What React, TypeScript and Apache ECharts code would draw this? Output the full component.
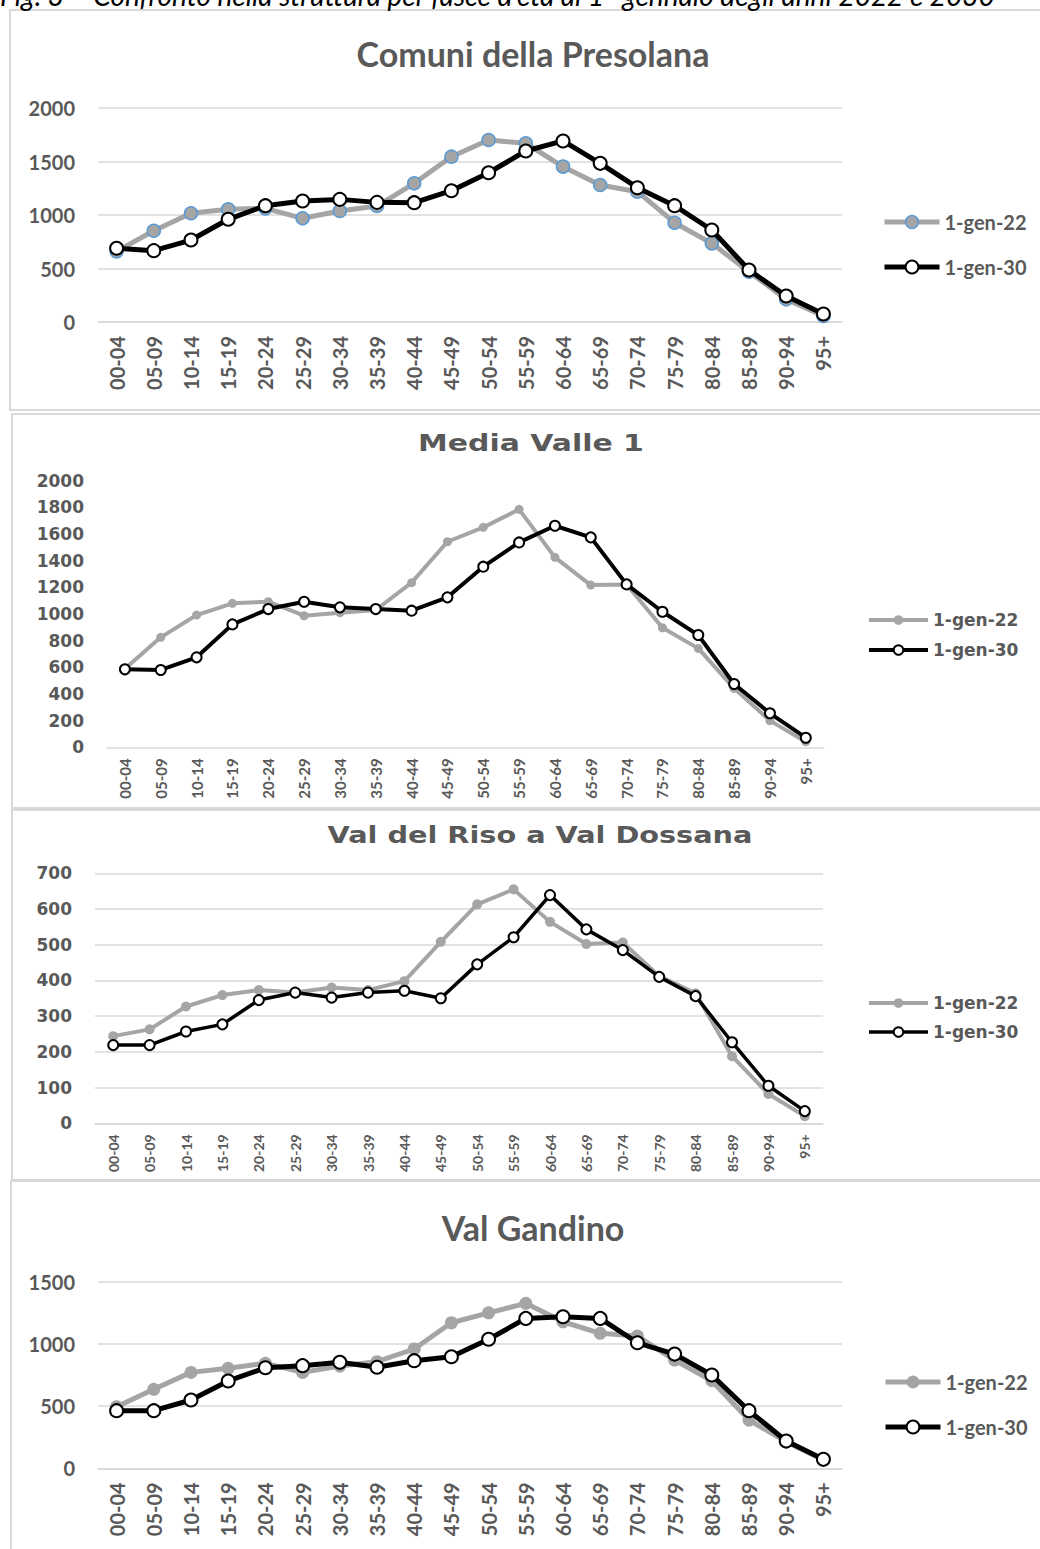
import React, { useEffect, useRef } from "react";
import * as echarts from "echarts";

const ageGroups = ["00-04","05-09","10-14","15-19","20-24","25-29","30-34","35-39","40-44","45-49","50-54","55-59","60-64","65-69","70-74","75-79","80-84","85-89","90-94","95+"];
const seriesNames = ["1-gen-22", "1-gen-30"];
const panelTitles = ["Comuni della Presolana", "Media Valle 1", "Val del Riso a Val Dossana", "Val Gandino"];
const captionText = "Fig. 3 \u2013 Confronto nella struttura per fasce d\u2019et\u00e0 al 1\u00b0 gennaio degli anni 2022 e 2030";

const presolana2022 = [660, 853, 1016, 1053, 1062, 969, 1037, 1084, 1296, 1545, 1701, 1670, 1452, 1280, 1218, 928, 735, 470, 212, 56];
const presolana2030 = [689, 667, 766, 960, 1087, 1131, 1146, 1118, 1115, 1227, 1395, 1598, 1692, 1483, 1255, 1087, 860, 486, 243, 75];
const mediaValle2022 = [590, 825, 992, 1080, 1092, 987, 1010, 1030, 1235, 1542, 1650, 1785, 1425, 1217, 1222, 897, 742, 442, 200, 42];
const mediaValle2030 = [585, 580, 675, 922, 1037, 1092, 1050, 1037, 1025, 1125, 1355, 1537, 1662, 1575, 1222, 1017, 842, 475, 255, 72];
const riso2022 = [244, 263, 327, 359, 373, 366, 380, 373, 398, 508, 613, 655, 564, 502, 506, 412, 364, 188, 82, 20];
const riso2030 = [219, 219, 257, 277, 345, 366, 352, 366, 371, 350, 445, 521, 639, 543, 485, 410, 356, 227, 105, 34];
const gandino2022 = [495, 635, 771, 804, 844, 771, 822, 857, 959, 1170, 1250, 1326, 1178, 1085, 1063, 870, 704, 388, 214, 67];
const gandino2030 = [463, 463, 549, 702, 808, 825, 852, 812, 865, 897, 1037, 1205, 1218, 1205, 1009, 918, 750, 463, 219, 72];

const yMax = [2000, 2000, 700, 1500];
const yStep = [500, 200, 100, 500];

const GRAY = "#A5A5A5";
const TXT = "#595959";
const BORDER = "#D9D9D9";

export default function App() {
  const ref = useRef<HTMLDivElement>(null);

  useEffect(() => {
    if (!ref.current) return;
    const chart = echarts.init(ref.current, null, { renderer: "svg" });

    const panels = [
      {
        data: [presolana2022, presolana2030],
        grid: { left: 98, top: 108, width: 744, height: 214 },
        gridLines: true,
        yFont: { fontFamily: "Lato", fontWeight: "bold", fontSize: 20 },
        xFont: { fontFamily: "Lato", fontWeight: "bold", fontSize: 20 },
        xMargin: 14,
        gray: { lw: 5, size: 13, border: "#5B9BD5", bw: 1.5 },
        black: { lw: 5, size: 13, bw: 2 },
        legend: { left: 882, top: 210, itemWidth: 55, itemHeight: 16, lineHeight: 24, gap: 21, font: { fontFamily: "Lato", fontWeight: "bold", fontSize: 20 } },
      },
      {
        data: [mediaValle2022, mediaValle2030],
        grid: { left: 107, top: 480.7, width: 716.7, height: 266.6 },
        gridLines: false,
        yFont: { fontFamily: "DejaVu Sans", fontWeight: "bold", fontSize: 17 },
        xFont: { fontFamily: "Lato", fontWeight: "bold", fontSize: 15 },
        xMargin: 11,
        gray: { lw: 4, size: 9, border: GRAY, bw: 0 },
        black: { lw: 4, size: 10, bw: 2 },
        legend: { left: 867, top: 610, itemWidth: 59, itemHeight: 12, lineHeight: 20, gap: 10, font: { fontFamily: "DejaVu Sans", fontWeight: "bold", fontSize: 17 } },
      },
      {
        data: [riso2022, riso2030],
        grid: { left: 95, top: 873.3, width: 728, height: 250 },
        gridLines: true,
        yFont: { fontFamily: "DejaVu Sans", fontWeight: "bold", fontSize: 17 },
        xFont: { fontFamily: "Lato", fontWeight: "bold", fontSize: 14 },
        xMargin: 11,
        gray: { lw: 4, size: 10, border: GRAY, bw: 0 },
        black: { lw: 3.5, size: 10, bw: 2 },
        legend: { left: 867, top: 993, itemWidth: 59, itemHeight: 12, lineHeight: 20, gap: 9, font: { fontFamily: "DejaVu Sans", fontWeight: "bold", fontSize: 17 } },
      },
      {
        data: [gandino2022, gandino2030],
        grid: { left: 98, top: 1281.7, width: 744, height: 186.6 },
        gridLines: true,
        yFont: { fontFamily: "Lato", fontWeight: "bold", fontSize: 20 },
        xFont: { fontFamily: "Lato", fontWeight: "bold", fontSize: 20 },
        xMargin: 14,
        gray: { lw: 5, size: 13, border: GRAY, bw: 0 },
        black: { lw: 5, size: 13, bw: 2 },
        legend: { left: 883, top: 1370, itemWidth: 55, itemHeight: 16, lineHeight: 24, gap: 21, font: { fontFamily: "Lato", fontWeight: "bold", fontSize: 20 } },
      },
    ];

    const grid: any[] = [];
    const xAxis: any[] = [];
    const yAxis: any[] = [];
    const series: any[] = [];
    const legend: any[] = [];

    panels.forEach((p, i) => {
      grid.push({ ...p.grid, containLabel: false });
      xAxis.push({
        type: "category",
        gridIndex: i,
        data: ageGroups,
        boundaryGap: true,
        axisLine: { show: true, lineStyle: { color: BORDER, width: 1.5 } },
        axisTick: { show: false },
        axisLabel: { rotate: 90, interval: 0, margin: p.xMargin, color: TXT, ...p.xFont },
        splitLine: { show: false },
      });
      yAxis.push({
        type: "value",
        gridIndex: i,
        min: 0,
        max: yMax[i],
        interval: yStep[i],
        axisLine: { show: false },
        axisTick: { show: false },
        axisLabel: { margin: 23, color: TXT, formatter: (v: number) => String(v), ...p.yFont },
        splitLine: { show: p.gridLines, lineStyle: { color: BORDER, width: 1.5 } },
      });
      series.push({
        name: seriesNames[0],
        type: "line",
        xAxisIndex: i,
        yAxisIndex: i,
        data: p.data[0],
        symbol: "circle",
        symbolSize: p.gray.size,
        showSymbol: true,
        lineStyle: { color: GRAY, width: p.gray.lw },
        itemStyle: { color: GRAY, borderColor: p.gray.border, borderWidth: p.gray.bw },
        z: 2,
      });
      series.push({
        name: seriesNames[1],
        type: "line",
        xAxisIndex: i,
        yAxisIndex: i,
        data: p.data[1],
        symbol: "circle",
        symbolSize: p.black.size,
        showSymbol: true,
        lineStyle: { color: "#000000", width: p.black.lw },
        itemStyle: { color: "#FFFFFF", borderColor: "#000000", borderWidth: p.black.bw },
        z: 3,
      });
      const lg = p.legend;
      legend.push({
        orient: "vertical",
        left: lg.left,
        top: lg.top,
        itemWidth: lg.itemWidth,
        itemHeight: lg.itemHeight,
        itemGap: lg.gap,
        selectedMode: false,
        padding: 0,
        textStyle: { color: TXT, lineHeight: lg.lineHeight, padding: [0, 0, 0, 0], ...lg.font },
        data: [
          {
            name: seriesNames[0],
            itemStyle: { color: GRAY, borderColor: p.gray.border, borderWidth: p.gray.bw },
            lineStyle: { color: GRAY, width: p.gray.lw },
          },
          {
            name: seriesNames[1],
            itemStyle: { color: "#FFFFFF", borderColor: "#000000", borderWidth: p.black.bw },
            lineStyle: { color: "#000000", width: p.black.lw },
          },
        ],
      });
    });

    const graphic: any[] = [
      { type: "rect", shape: { x: 10, y: 10, width: 1040, height: 400 }, style: { fill: "none", stroke: BORDER, lineWidth: 2 }, z: -1 },
      { type: "rect", shape: { x: 12, y: 414, width: 1040, height: 394 }, style: { fill: "none", stroke: BORDER, lineWidth: 2 }, z: -1 },
      { type: "rect", shape: { x: 12, y: 810, width: 1040, height: 370 }, style: { fill: "none", stroke: BORDER, lineWidth: 2 }, z: -1 },
      { type: "rect", shape: { x: 11, y: 1181, width: 1040, height: 400 }, style: { fill: "none", stroke: BORDER, lineWidth: 2 }, z: -1 },
      {
        type: "text",
        x: 0,
        y: 9,
        style: { text: captionText, fill: "#000000", font: "italic 28px Lato", align: "left", verticalAlign: "bottom" },
      },
      {
        type: "text",
        x: 533,
        y: 53,
        style: { text: panelTitles[0], fill: TXT, font: "bold 34px Lato", align: "center", verticalAlign: "middle" },
      },
      {
        type: "text",
        x: 531,
        y: 443,
        scaleX: 1.3,
        style: { text: panelTitles[1], fill: TXT, font: "bold 23px 'DejaVu Sans'", align: "center", verticalAlign: "middle" },
      },
      {
        type: "text",
        x: 540,
        y: 835,
        scaleX: 1.25,
        style: { text: panelTitles[2], fill: TXT, font: "bold 23px 'DejaVu Sans'", align: "center", verticalAlign: "middle" },
      },
      {
        type: "text",
        x: 533,
        y: 1227,
        style: { text: panelTitles[3], fill: TXT, font: "bold 34px Lato", align: "center", verticalAlign: "middle" },
      },
    ];

    chart.setOption({
      animation: false,
      backgroundColor: "#FFFFFF",
      grid,
      xAxis,
      yAxis,
      series,
      legend,
      graphic,
    });

    return () => chart.dispose();
  }, []);

  return (
    <div
      ref={ref}
      style={{ position: "absolute", left: 0, top: 0, width: 1040, height: 1549, background: "#FFFFFF" }}
    />
  );
}
